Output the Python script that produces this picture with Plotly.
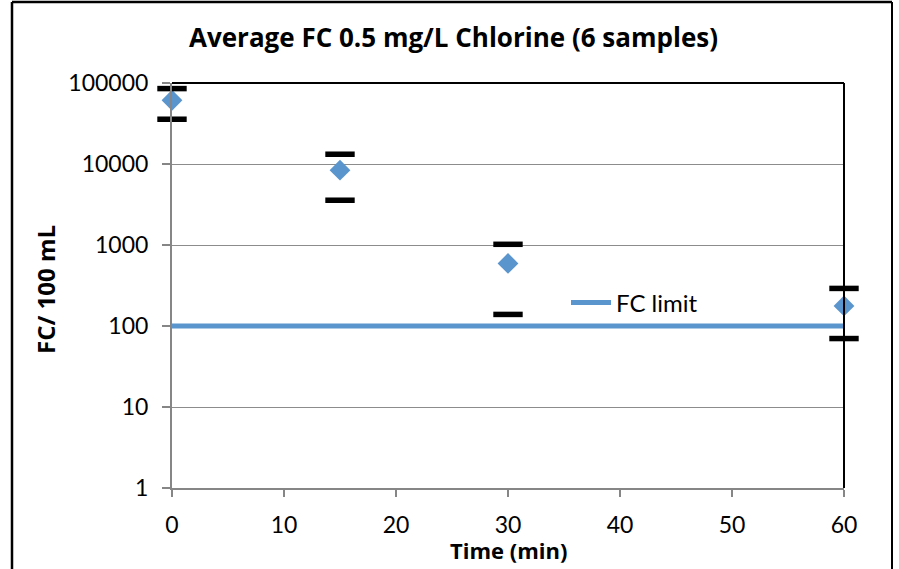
import plotly.graph_objects as go

# Sampling times (min) and faecal coliform counts (FC / 100 mL)
times = [0, 15, 30, 60]
mean_fc = [61200, 8380, 592, 177]
upper_fc = [85300, 13200, 1020, 291]
lower_fc = [35700, 3570, 139, 70]

# Regulatory limit
limit_times = [0, 60]
limit_fc = [100, 100]

y_tick_vals = [1, 10, 100, 1000, 10000, 100000]
y_tick_text = ["1", "10", "100", "1000", "10000", "100000"]
x_tick_vals = [0, 10, 20, 30, 40, 50, 60]

FONT = "Lato, 'Open Sans', sans-serif"
BOLD_FONT = "'Open Sans', Lato, sans-serif"
BLUE = "#5B95CD"
GRID = "#8C8C8C"
AXIS = "#868686"

fig = go.Figure()

fig.add_trace(go.Scatter(
    x=limit_times, y=limit_fc, mode="lines", name="FC limit",
    line=dict(color=BLUE, width=5), showlegend=True, cliponaxis=False,
))

fig.add_trace(go.Scatter(
    x=times, y=mean_fc, mode="markers", name="Average FC",
    marker=dict(symbol="diamond", size=16, color=BLUE, line=dict(width=0)),
    showlegend=False, cliponaxis=False,
))

# Upper and lower range caps
for vals, nm in ((upper_fc, "Max"), (lower_fc, "Min")):
    fig.add_trace(go.Scatter(
        x=times, y=vals, mode="markers", name=nm,
        marker=dict(symbol="line-ew", size=21, color="black",
                    line=dict(color="black", width=5.5)),
        showlegend=False, cliponaxis=False,
    ))

L, R, T, B = 172, 55, 83, 81
W, H = 899, 569
pw = W - L - R
ph = H - T - B


def px_x(px):
    return (px - L) / pw


def px_y(py):
    return (H - B - py) / ph


shapes = [
    # plot area frame (top and right)
    dict(type="line", xref="paper", yref="paper", x0=0, x1=1, y0=1, y1=1,
         line=dict(color="black", width=2), layer="above"),
    dict(type="line", xref="paper", yref="paper", x0=1, x1=1, y0=0, y1=1,
         line=dict(color="black", width=2), layer="above"),
    # chart frame
    dict(type="line", xref="paper", yref="paper", x0=px_x(12), x1=px_x(12),
         y0=px_y(2), y1=px_y(580), line=dict(color="black", width=2.5)),
    dict(type="line", xref="paper", yref="paper", x0=px_x(12), x1=px_x(892),
         y0=px_y(2), y1=px_y(2), line=dict(color="black", width=2.5)),
    dict(type="line", xref="paper", yref="paper", x0=px_x(892), x1=px_x(892),
         y0=px_y(2), y1=px_y(580), line=dict(color="black", width=2)),
]

annotations = [
    dict(text="<b>FC/ 100 mL</b>", xref="paper", yref="paper",
         x=px_x(45), y=px_y(290), textangle=-90, showarrow=False,
         xanchor="center", yanchor="middle",
         font=dict(family=BOLD_FONT, size=24, color="black")),
    dict(text="<b>Time (min)</b>", xref="paper", yref="paper",
         x=px_x(508), y=px_y(550), showarrow=False,
         xanchor="center", yanchor="middle",
         font=dict(family=BOLD_FONT, size=22, color="black")),
]

fig.update_layout(
    width=W, height=H,
    margin=dict(l=L, r=R, t=T, b=B, pad=0),
    paper_bgcolor="white", plot_bgcolor="white",
    title=dict(text="<b>Average FC 0.5 mg/L Chlorine (6 samples)</b>",
               x=453.5 / W, xref="container", xanchor="center",
               y=1 - 38 / H, yref="container", yanchor="middle",
               font=dict(family=BOLD_FONT, size=26, color="black")),
    font=dict(family=FONT, size=23, color="black"),
    showlegend=True,
    legend=dict(x=px_x(566), y=px_y(303), xanchor="left", yanchor="middle",
                bgcolor="rgba(0,0,0,0)", borderwidth=0,
                font=dict(family=FONT, size=24, color="black"),
                itemwidth=40),
    shapes=shapes,
    annotations=annotations,
    xaxis=dict(range=[0, 60], tickvals=x_tick_vals, showgrid=False,
               showline=True, linecolor=AXIS, linewidth=2,
               ticks="outside", ticklen=7, tickcolor=AXIS, tickwidth=1.5,
               ticklabelstandoff=8, zeroline=False,
               tickfont=dict(family=FONT, size=23, color="black")),
    yaxis=dict(type="log", range=[0, 5], tickvals=y_tick_vals,
               ticktext=y_tick_text, showgrid=True, gridcolor=GRID,
               gridwidth=1.2, showline=True, linecolor=AXIS, linewidth=2,
               ticks="outside", ticklen=8, tickcolor=AXIS, tickwidth=1.5,
               ticklabelstandoff=9, zeroline=False,
               tickfont=dict(family=FONT, size=23, color="black")),
)

fig.write_html("out.html")
